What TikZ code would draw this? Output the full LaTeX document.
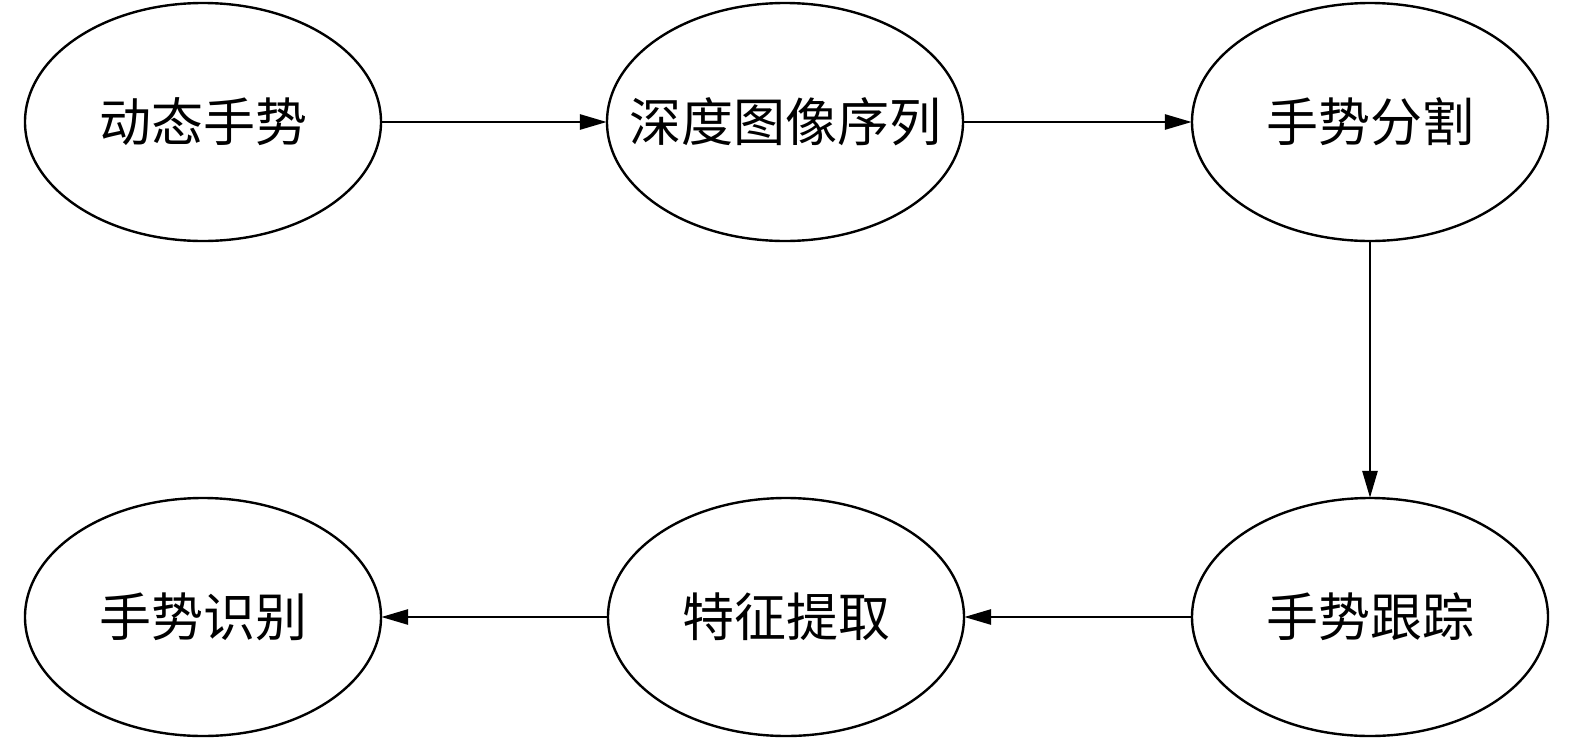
\documentclass[tikz,border=0pt]{standalone}
\usepackage{fontspec}
\setmainfont{Noto Sans CJK SC}
\usetikzlibrary{shapes.geometric,arrows.meta}
\newcommand{\lbl}[1]{\makebox[0pt]{#1}}
\tikzset{
  state/.style={ellipse, draw, line width=1.2pt, minimum width=178pt, minimum height=119pt,
    inner sep=0pt, font=\fontsize{26}{30}\selectfont},
  flow/.style={-{Triangle[length=13.5pt,width=7.5pt]}, line width=1.4pt, shorten >=-0.5pt}
}
\begin{document}
\begin{tikzpicture}[x=0.5pt,y=-0.5pt]
  \useasboundingbox (0,0) rectangle (1575,740);
  \node[state] (dongtai) at (203,122) {\lbl{动态手势}};
  \node[state] (shendu)  at (785,122) {\lbl{深度图像序列}};
  \node[state] (fenge)   at (1370,122) {\lbl{手势分割}};
  \node[state] (genzong) at (1370,617) {\lbl{手势跟踪}};
  \node[state] (tiqu)    at (786,617) {\lbl{特征提取}};
  \node[state] (shibie)  at (203,617) {\lbl{手势识别}};
  \draw[flow] (dongtai) -- (shendu);
  \draw[flow] (shendu) -- (fenge);
  \draw[flow] (fenge) -- (genzong);
  \draw[flow] (genzong) -- (tiqu);
  \draw[flow] (tiqu) -- (shibie);
\end{tikzpicture}
\end{document}
